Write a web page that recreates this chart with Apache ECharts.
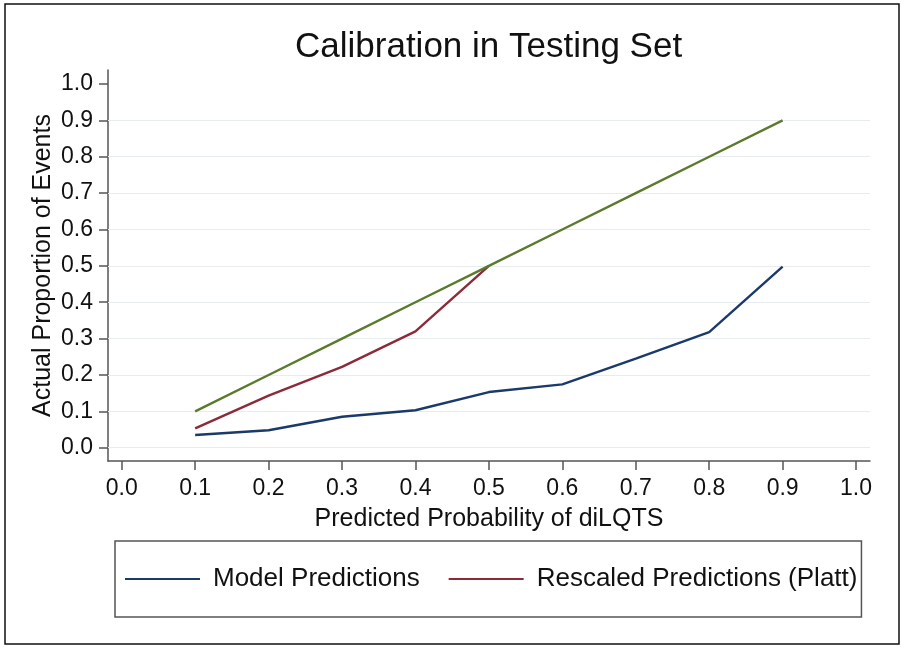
<!DOCTYPE html>
<html>
<head>
<meta charset="utf-8">
<script src="https://cdn.jsdelivr.net/npm/echarts@6/dist/echarts.min.js"></script>
<style>html,body{margin:0;padding:0;background:#fff}#c{width:905px;height:650px}</style>
</head>
<body>
<div id="c"></div>
<script>
const xValues = [0.1, 0.2, 0.3, 0.4, 0.5, 0.6, 0.7, 0.8, 0.9];
const modelPredictions = [0.035, 0.048, 0.085, 0.103, 0.153, 0.174, 0.245, 0.318, 0.498];
const rescaledPredictions = [0.053, 0.143, 0.222, 0.320, 0.500];
const perfectCalibration = [0.1, 0.2, 0.3, 0.4, 0.5, 0.6, 0.7, 0.8, 0.9];
const tickValues = [0, 0.1, 0.2, 0.3, 0.4, 0.5, 0.6, 0.7, 0.8, 0.9, 1.0];
const gridlineValues = [0, 0.1, 0.2, 0.3, 0.4, 0.5, 0.6, 0.7, 0.8, 0.9];

const FONT = '"Liberation Sans", Arial, Helvetica, sans-serif';
const pairs = (xs, ys) => ys.map((y, i) => [xs[i], y]);

const chart = echarts.init(document.getElementById('c'), null, {renderer: 'canvas'});
const axisCommon = {
  type: 'value',
  axisLine: {show: true, onZero: false, lineStyle: {color: '#555', width: 1.5}},
  axisTick: {show: true, customValues: tickValues, length: 9, inside: false, lineStyle: {color: '#555', width: 1.5}},
  axisLabel: {customValues: tickValues, formatter: v => v.toFixed(1), color: '#111', fontSize: 23, fontFamily: FONT},
  splitLine: {show: false},
  nameLocation: 'middle',
  nameMoveOverlap: false,
  nameTextStyle: {color: '#111', fontSize: 25, fontFamily: FONT}
};
chart.setOption({
  animation: false,
  backgroundColor: '#fff',
  title: {
    text: 'Calibration in Testing Set',
    left: 290, top: 25,
    textStyle: {color: '#111', fontSize: 35, fontWeight: 'normal', fontFamily: FONT}
  },
  grid: {left: 108, right: 35, top: 70, bottom: 189, containLabel: false},
  xAxis: Object.assign({}, axisCommon, {
    min: -0.0187, max: 1.019,
    name: 'Predicted Probability of diLQTS', nameGap: 46,
    axisLabel: Object.assign({}, axisCommon.axisLabel, {margin: 16})
  }),
  yAxis: Object.assign({}, axisCommon, {
    min: -0.0366, max: 1.0385,
    name: 'Actual Proportion of Events', nameGap: 52,
    axisLabel: Object.assign({}, axisCommon.axisLabel, {margin: 15})
  }),
  legend: {
    data: ['Model Predictions', 'Rescaled Predictions (Platt)'],
    left: 115, top: 541,
    itemWidth: 75, itemHeight: 20, itemGap: 29,
    padding: [25, 4, 25, 10],
    borderColor: '#555', borderWidth: 1.5,
    icon: 'path://M0,9L75,9L75,11L0,11Z',
    textStyle: {color: '#111', fontSize: 26, fontFamily: FONT, padding: [0, 0, 0, 8]}
  },
  graphic: [{
    type: 'rect', shape: {x: 5, y: 4, width: 894, height: 640},
    style: {fill: 'none', stroke: '#111', lineWidth: 1.5}, silent: true
  }],
  series: [
    {
      name: 'gridlines', type: 'line', data: [], silent: true, z: 1,
      markLine: {
        silent: true, symbol: 'none', label: {show: false}, z: 1,
        lineStyle: {color: '#e8ecee', width: 1.2, type: 'solid'},
        data: gridlineValues.map(v => ({yAxis: v}))
      }
    },
    {
      name: 'Model Predictions', type: 'line', data: pairs(xValues, modelPredictions),
      showSymbol: false, symbol: 'none', z: 3,
      lineStyle: {color: '#1a3a6b', width: 2.4}, itemStyle: {color: '#1a3a6b'}
    },
    {
      name: 'Rescaled Predictions (Platt)', type: 'line', data: pairs(xValues, rescaledPredictions),
      showSymbol: false, symbol: 'none', z: 3,
      lineStyle: {color: '#8c2a37', width: 2.4}, itemStyle: {color: '#8c2a37'}
    },
    {
      name: 'Perfect Calibration', type: 'line', data: pairs(xValues, perfectCalibration),
      showSymbol: false, symbol: 'none', z: 4,
      lineStyle: {color: '#5a7a2c', width: 2.4}, itemStyle: {color: '#5a7a2c'}
    }
  ]
});
</script>
</body>
</html>
